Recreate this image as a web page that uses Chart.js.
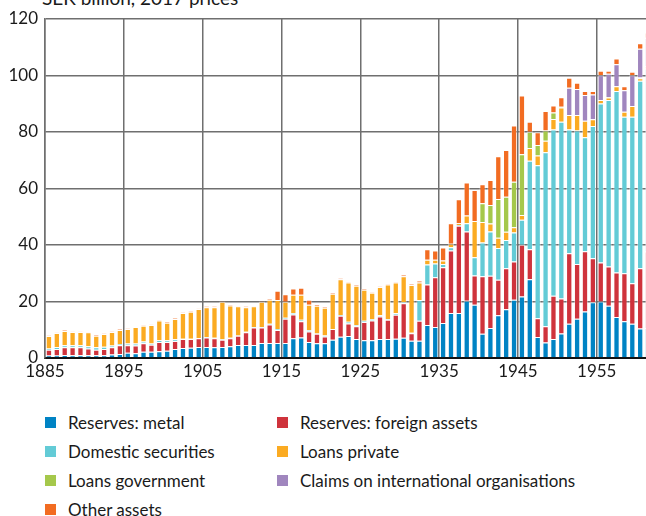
<!DOCTYPE html>
<html lang="en">
<head>
<meta charset="UTF-8">
<title>Riksbank assets 1885-1961</title>
<script src="https://cdn.jsdelivr.net/npm/chart.js"></script>
<style>
    body {
        margin: 0;
        width: 646px;
        height: 516px;
        overflow: hidden;
        background: #ffffff;
        font-family: 'Lato', 'Open Sans', sans-serif;
        position: relative;
    }
    .unit {
        position: absolute;
        left: 42px;
        top: -12px;
        font-size: 19px;
        line-height: 20px;
        color: #1a1a1a;
        white-space: nowrap;
    }
    #chartBox {
        position: absolute;
        left: 0;
        top: 0;
    }
    .legend {
        position: absolute;
        left: 45px;
        top: 408px;
        display: grid;
        grid-template-columns: 232px 320px;
        grid-auto-rows: 29px;
        font-size: 17px;
        color: #1a1a1a;
    }
    .legend span.item {
        display: flex;
        align-items: center;
        white-space: nowrap;
    }
    .legend i {
        display: inline-block;
        width: 11px;
        height: 11px;
        margin-right: 12px;
    }
</style>
</head>
<body>
<div class="unit">SEK billion, 2017 prices</div>
<canvas id="chartBox" width="652" height="388"></canvas>
<div class="legend" id="legend"></div>

<script>
    // years on the x axis, one bar per year
    const years = [];
    for (let y = 1885; y <= 1961; y++) years.push(y);

    const seriesNames = ['Reserves: metal', 'Reserves: foreign assets', 'Domestic securities',
        'Loans private', 'Loans government', 'Claims on international organisations', 'Other assets'];
    const seriesColors = ['#0083c4', '#cf333c', '#63cbd6', '#fbab22', '#a5c84b', '#a086be', '#f26c22'];

    // values, SEK billion
    const metal = [
        0.9, 0.9, 1.1, 1.0, 1.0, 1.0, 1.0, 1.0, 1.2, 1.4,
        1.9, 1.65, 2.2, 2.2, 2.4, 2.6, 3.2, 3.5, 3.65, 3.9,
        3.9, 3.8, 3.9, 4.2, 4.6, 4.6, 4.6, 5.3, 5.3, 5.3,
        5.3, 6.95, 7.3, 5.65, 5.2, 5.2, 6.5, 7.5, 7.8, 6.7,
        6.25, 6.25, 6.7, 6.7, 6.8, 7.2, 6.1, 6.1, 11.7, 10.95,
        12.4, 15.9, 15.9, 20.3, 18.85, 8.6, 10.6, 15.1, 17.3, 20.6,
        21.8, 27.9, 7.4, 5.5, 6.7, 8.7, 12.1, 13.9, 16.5, 19.7,
        20.0, 18.5, 14.5, 13.0, 12.1, 10.4, 10.6
    ];
    const foreign = [
        2.0, 2.3, 2.7, 2.8, 2.8, 2.4, 1.9, 2.2, 2.6, 3.1,
        2.6, 2.8, 3.0, 2.5, 3.3, 3.05, 2.8, 3.2, 3.05, 3.05,
        3.4, 3.15, 2.6, 2.75, 3.3, 4.5, 6.2, 5.5, 6.6, 4.6,
        8.6, 8.45, 5.7, 3.75, 3.4, 2.45, 3.75, 7.5, 4.45, 4.5,
        6.45, 7.05, 8.0, 6.85, 8.5, 12.2, 2.7, 7.1, 14.3, 17.65,
        19.75, 22.15, 30.9, 24.5, 10.35, 20.3, 18.5, 12.6, 14.5, 13.6,
        18.25, 10.6, 6.7, 5.7, 15.3, 12.4, 25.0, 19.4, 21.3, 15.6,
        13.8, 13.9, 15.8, 17.0, 14.4, 21.4, 27.1
    ];
    const domestic = [
        0.5, 0.7, 0.7, 0.7, 0.7, 0.8, 0.9, 0.8, 0.6, 0.5,
        0.6, 0.7, 0.6, 0.4, 0.6, 0.6, 0.6, 0.1, 0.1, 0.1,
        0.1, 0.25, 0.1, 0.25, 0.1, 0.2, 0.15, 0.15, 0.2, 0.35,
        0.35, 0.5, 0.55, 0.5, 0.1, 0.35, 0.05, 0.2, 0.55, 0.5,
        0.5, 0.4, 0.4, 0.15, 0.6, 0.4, 0.15, 7.3, 7.1, 4.85,
        1.15, 1.15, 0.3, 2.9, 6.5, 12.0, 15.7, 11.2, 10.0, 10.2,
        8.85, 31.35, 54.1, 61.6, 58.9, 62.5, 43.8, 47.2, 40.3, 46.8,
        56.3, 58.9, 64.2, 55.4, 58.9, 66.3, 64.8
    ];
    const loansPrivate = [
        4.35, 4.95, 5.1, 4.7, 4.7, 4.95, 4.1, 4.5, 4.8, 4.95,
        5.2, 5.8, 5.65, 6.6, 7.0, 6.25, 7.2, 9.1, 9.6, 10.3,
        10.6, 10.8, 13.3, 11.4, 10.3, 8.7, 7.35, 8.95, 8.5, 10.25,
        5.65, 6.5, 8.85, 8.95, 9.8, 9.8, 12.45, 12.7, 13.9, 13.9,
        10.95, 9.4, 10.0, 12.3, 10.8, 9.1, 16.85, 6.2, 1.65, 1.3,
        1.2, 1.2, 0.6, 2.7, 12.8, 7.2, 2.8, 3.7, 2.85, 1.9,
        1.75, 4.45, 3.5, 4.1, 3.7, 5.1, 5.1, 5.5, 5.9, 2.4,
        1.2, 0.9, 1.7, 1.8, 3.8, 0.9, 0.8
    ];
    const loansGovernment = [
        0, 0, 0, 0, 0, 0, 0, 0, 0, 0,
        0, 0, 0, 0, 0, 0, 0, 0, 0, 0,
        0, 0, 0, 0, 0, 0, 0, 0, 0, 0,
        0, 0, 0, 0, 0, 0, 0, 0, 0, 0,
        0, 0, 0, 0, 0, 0, 0, 0, 0, 0,
        0, 0, 0, 0, 0, 6.7, 6.6, 13.7, 12.45, 16.1,
        21.45, 5.8, 3.7, 3.6, 2.3, 0.2, 0, 0, 0, 0,
        0, 0.2, 0, 0, 0, 0.3, 0
    ];
    const claimsIntl = [
        0, 0, 0, 0, 0, 0, 0, 0, 0, 0,
        0, 0, 0, 0, 0, 0, 0, 0, 0, 0,
        0, 0, 0, 0, 0, 0, 0, 0, 0, 0,
        0, 0, 0, 0, 0, 0, 0, 0, 0, 0,
        0, 0, 0, 0, 0, 0, 0, 0, 0, 0,
        0, 0, 0, 0, 0, 0, 0, 0, 0, 0,
        0, 0, 0, 0, 0, 0, 9.7, 9.2, 9.1, 8.8,
        8.8, 8.2, 7.8, 7.6, 10.9, 10.2, 10.1
    ];
    const otherAssets = [
        0.25, 0.1, 0.2, 0.1, 0.1, 0.1, 0.25, 0.2, 0.2, 0.2,
        0.15, 0.1, 0.1, 0.1, 0.2, 0.3, 0.3, 0.2, 0.2, 0.1,
        0.3, 0.3, 0.2, 0.25, 0.2, 0.3, 0.2, 0.2, 0.4, 3.3,
        2.7, 2.2, 2.5, 1.75, 0.6, 0.3, 0.3, 0.3, 0.3, 0.3,
        0.35, 0.2, 0.2, 0.3, 0.3, 0.55, 0.35, 0.7, 3.75, 3.3,
        4.6, 7.3, 8.5, 11.7, 11.0, 6.7, 8.8, 15.1, 16.5, 19.9,
        20.8, 3.5, 4.5, 6.9, 2.5, 3.4, 3.5, 2.2, 1.4, 1.2,
        1.6, 1.1, 2.0, 1.4, 1.2, 1.9, 1.8
    ];

    const yTicks = [0, 20, 40, 60, 80, 100, 120];

    const seriesData = [metal, foreign, domestic, loansPrivate, loansGovernment, claimsIntl, otherAssets];

    const datasets = seriesData.map((vals, i) => ({
        label: seriesNames[i],
        data: vals.map(v => v === 0 ? null : v),
        backgroundColor: seriesColors[i],
        borderColor: 'rgba(255,255,255,0.45)',
        borderWidth: 1,
        barPercentage: 0.8,
        categoryPercentage: 1.0,
        stack: 'assets'
    }));

    const font = { family: "'Lato', 'Open Sans', sans-serif", size: 17 };
    const gridGrey = '#6f6f6f';

    new Chart(document.getElementById('chartBox'), {
        type: 'bar',
        data: { labels: years, datasets: datasets },
        options: {
            responsive: false,
            animation: false,
            layout: { padding: { top: 19, right: 0, bottom: 0, left: 0 } },
            plugins: {
                legend: { display: false },
                tooltip: { enabled: false }
            },
            scales: {
                x: {
                    stacked: true,
                    z: 1,
                    offset: true,
                    grid: {
                        offset: true,
                        drawTicks: false,
                        lineWidth: 1.5,
                        color: function(ctx) {
                            const yr = years[ctx.index];
                            return (yr !== undefined && yr % 10 === 5) ? gridGrey : 'rgba(0,0,0,0)';
                        }
                    },
                    border: { display: true, color: '#111111', width: 2 },
                    ticks: {
                        autoSkip: false,
                        maxRotation: 0,
                        minRotation: 0,
                        padding: 3,
                        labelOffset: -4,
                        color: '#1a1a1a',
                        font: font,
                        callback: function(value, index) {
                            const yr = years[index];
                            return yr % 10 === 5 ? String(yr) : '';
                        }
                    },
                    afterFit: function(scale) { scale.height = 30; }
                },
                y: {
                    stacked: true,
                    z: 1,
                    min: 0,
                    max: 120,
                    afterBuildTicks: function(scale) {
                        scale.ticks = yTicks.map(v => ({ value: v }));
                    },
                    grid: { color: gridGrey, lineWidth: 1.5, drawTicks: false },
                    border: { display: true, color: gridGrey, width: 1.5 },
                    ticks: { padding: 7, color: '#1a1a1a', font: font },
                    afterFit: function(scale) { scale.width = 45; }
                }
            }
        }
    });

    // legend in two columns, same order as the stack
    const legendBox = document.getElementById('legend');
    seriesNames.forEach((name, i) => {
        const item = document.createElement('span');
        item.className = 'item';
        item.innerHTML = '<i style="background:' + seriesColors[i] + '"></i>' + name;
        legendBox.appendChild(item);
    });
</script>
</body>
</html>
